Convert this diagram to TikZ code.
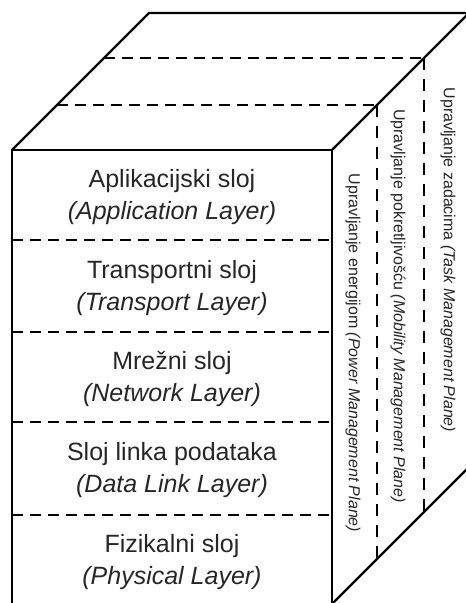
\documentclass[tikz,border=0pt]{standalone}
\usepackage{fontspec}
\setmainfont{Liberation Sans}
\begin{document}
\begin{tikzpicture}[x=1pt,y=-1pt,
  edge/.style={line width=2.2pt,line join=miter},
  dline/.style={line width=2.2pt,dash pattern=on 11pt off 7pt},
  vline/.style={line width=2.2pt,dash pattern=on 12pt off 9pt},
  layer/.style={align=center,text=black!85,font=\fontsize{25}{32}\selectfont,inner sep=0pt},
  plane/.style={rotate=-90,text=black!85,font=\fontsize{16}{19}\selectfont,inner sep=0pt}]
\useasboundingbox (0,0) rectangle (466,603);
% corners
\coordinate (ftl) at (12,150);
\coordinate (ftr) at (332,150);
\coordinate (fbl) at (12,604);
\coordinate (fbr) at (332,604);
\coordinate (btl) at (149,13);
\coordinate (btr) at (469,13);
\coordinate (bbr) at (469,467);
% dashed planes on top and side
\coordinate (a1) at (57,105);
\coordinate (a2) at (377,105);
\coordinate (a3) at (377,559);
\coordinate (b1) at (104,58);
\coordinate (b2) at (424,58);
\coordinate (b3) at (424,512);
\draw[dline] (a1) -- (a2);
\draw[vline] (a2) -- (a3);
\draw[dline] (b1) -- (b2);
\draw[vline] (b2) -- (b3);
% front dashed dividers
\foreach \y [count=\i] in {240,332,422,515}{
  \coordinate (l\i) at (12,\y);
  \coordinate (r\i) at (332,\y);
  \draw[dline] (l\i) -- (r\i);
}
% box edges
\draw[edge] (fbl) -- (ftl) -- (ftr) -- (fbr);
\draw[edge] (ftl) -- (btl) -- (btr) -- (ftr);
\draw[edge] (btr) -- (bbr) -- (fbr);
% layer labels
\node[layer] (L1) at (172,197) {Aplikacijski sloj\\\textit{(Application Layer)}};
\node[layer] (L2) at (172,288) {Transportni sloj\\\textit{(Transport Layer)}};
\node[layer] (L3) at (172,379) {Mrežni sloj\\\textit{(Network Layer)}};
\node[layer] (L4) at (172,470) {Sloj linka podataka\\\textit{(Data Link Layer)}};
\node[layer] (L5) at (172,562) {Fizikalni sloj\\\textit{(Physical Layer)}};
% plane labels
\node[plane] (P1) at (448,260) {Upravljanje zadacima \textit{(Task Management Plane)}};
\node[plane] (P2) at (398,306) {Upravljanje pokretljivošću \textit{(Mobility Management Plane)}};
\node[plane] (P3) at (353,353) {Upravljanje energijom \textit{(Power Management Plane)}};
\end{tikzpicture}
\end{document}
